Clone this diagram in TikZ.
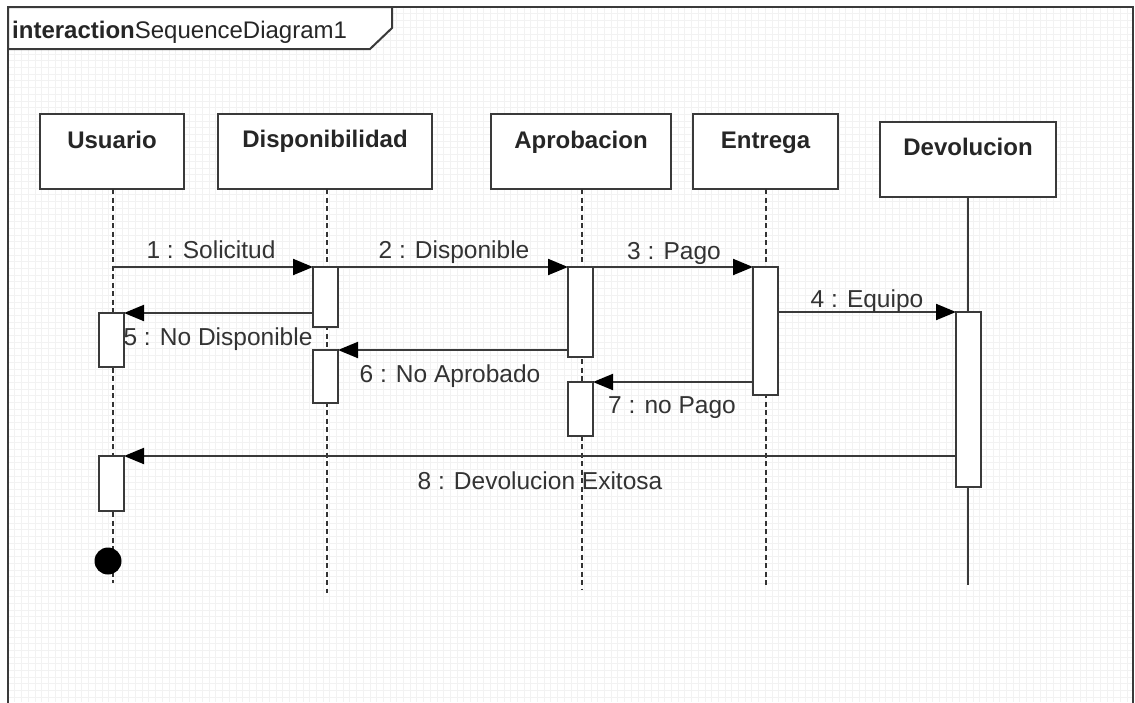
\documentclass[tikz,border=0pt]{standalone}
\usepackage{fontspec}
\setmainfont{Liberation Sans}
\usetikzlibrary{arrows.meta}

\definecolor{ink}{HTML}{333333}
\definecolor{edge}{HTML}{3A3A3A}
\definecolor{gridc}{HTML}{F2F2F2}

\begin{document}
\begin{tikzpicture}[x=1pt,y=-1pt,
  headbox/.style={draw=edge, line width=2pt, fill=white, inner sep=0pt, outer sep=0pt},
  headtext/.style={font=\fontsize{24}{28}\selectfont\bfseries, text=black!85, anchor=base, inner sep=0pt},
  bar/.style={draw=edge, line width=2pt, fill=white, minimum width=25, inner sep=0pt, outer sep=0pt, anchor=north},
  lifedash/.style={draw=black!80, line width=2.4pt, dash pattern=on 5pt off 3.5pt},
  lifesolid/.style={draw=edge, line width=2pt},
  msg/.style={draw=edge, line width=2pt, -{Triangle[length=20pt,width=16pt,fill=black,color=black]}},
  lbl/.style={font=\fontsize{24.5}{28}\selectfont, text=ink, anchor=base, inner sep=0pt}
]
\clip (0,0) rectangle (1135,702);
\fill[white] (0,0) rectangle (1135,702);

% faint background grid inside the frame
\foreach \gx in {14.7,21.4,...,1133} \draw[gridc, line width=0.6pt] (\gx,7) -- (\gx,702);
\foreach \gy in {13.7,20.4,...,702} \draw[gridc, line width=0.6pt] (8,\gy) -- (1133,\gy);

% frame and its name tab
\draw[edge, line width=2.4pt] (8,720) -- (8,7) -- (1133,7) -- (1133,720);
\draw[edge, line width=2pt, fill=white] (8,7) -- (392,7) -- (392,28) -- (370,49) -- (8,49) -- cycle;
\node[anchor=base west, inner sep=0pt, text=black!85, font=\fontsize{24}{28}\selectfont] (title) at (12,38)
  {\textbf{interaction}SequenceDiagram1};

% lifeline heads
\node[headbox, minimum width=144, minimum height=75, anchor=north west] (usuario) at (40,114) {};
\node[headbox, minimum width=214, minimum height=75, anchor=north west] (disp) at (218,114) {};
\node[headbox, minimum width=180, minimum height=75, anchor=north west] (aprob) at (491,114) {};
\node[headbox, minimum width=145, minimum height=75, anchor=north west] (entrega) at (693,114) {};
\node[headbox, minimum width=176, minimum height=75, anchor=north west] (devol) at (880,122) {};

\node[headtext] (tusuario) at (usuario.north |- 0,148) {Usuario};
\node[headtext] (tdisp) at (disp.north |- 0,147) {Disponibilidad};
\node[headtext] (taprob) at (aprob.north |- 0,148) {Aprobacion};
\node[headtext] (tentrega) at (entrega.north |- 0,148) {Entrega};
\node[headtext] (tdevol) at (devol.north |- 0,155) {Devolucion};

% lifeline ends
\coordinate (uend) at (113,583);
\coordinate (dend) at (327,593);
\coordinate (aend) at (582,590);
\coordinate (eend) at (766,585);
\coordinate (vend) at (968,585);

% lifelines
\draw[lifedash] (usuario.south -| uend) -- (uend);
\draw[lifedash] (disp.south -| dend) -- (dend);
\draw[lifedash] (aprob.south -| aend) -- (aend);
\draw[lifedash] (entrega.south -| eend) -- (eend);
\draw[lifesolid] (devol.south -| vend) -- (vend);

% activation bars
\node[bar, minimum height=54] (u1) at (111.5,313) {};
\node[bar, minimum height=55] (u2) at (111.5,456) {};
\node[bar, minimum height=60] (d1) at (325.5,267) {};
\node[bar, minimum height=53] (d2) at (325.5,350) {};
\node[bar, minimum height=90] (a1) at (580.5,267) {};
\node[bar, minimum height=54] (a2) at (580.5,382) {};
\node[bar, minimum height=128] (e1) at (765.5,267) {};
\node[bar, minimum height=175] (v1) at (968.5,312) {};

% end of the Usuario lifeline
\fill[black] (108,561) circle (13.5);

% messages
\coordinate (start1) at (113,267);
\draw[msg] (start1) -- (d1.north west);
\draw[msg] (d1.north east) -- (a1.north west);
\draw[msg] (a1.north east) -- (e1.north west);
\draw[msg] (e1.east |- v1.north) -- (v1.north west);
\draw[msg] (d1.west |- u1.north) -- (u1.north east);
\draw[msg] (a1.west |- d2.north) -- (d2.north east);
\draw[msg] (e1.west |- a2.north) -- (a2.north east);
\draw[msg] (v1.west |- u2.north) -- (u2.north east);

% message labels
\node[lbl] (l1) at (211,258) {1 : Solicitud};
\node[lbl] (l2) at (454,258) {2 : Disponible};
\node[lbl] (l3) at (674,259) {3 : Pago};
\node[lbl] (l4) at (867,307) {4 : Equipo};
\node[lbl] (l5) at (218,345) {5 : No Disponible};
\node[lbl] (l6) at (450,382) {6 : No Aprobado};
\node[lbl] (l7) at (672,413) {7 : no Pago};
\node[lbl] (l8) at (540,489) {8 : Devolucion Exitosa};
\end{tikzpicture}
\end{document}
